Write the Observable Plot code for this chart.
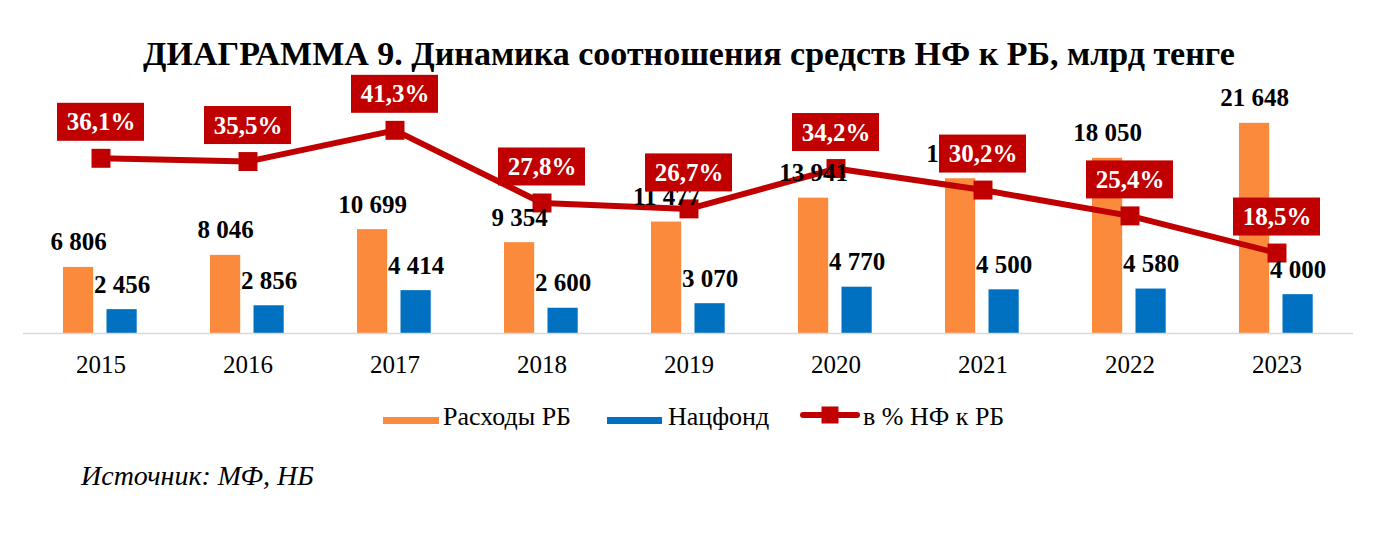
<!DOCTYPE html>
<html>
<head>
<meta charset="utf-8">
<script src="https://cdn.jsdelivr.net/npm/d3@7"></script>
<script src="https://cdn.jsdelivr.net/npm/@observablehq/plot@0.6"></script>
<style>
  html, body { margin: 0; padding: 0; background: #fff; }
  body { width: 1378px; height: 535px; overflow: hidden; font-family: "Liberation Serif", "Times New Roman", serif; color: #000; }
  #title { position: relative; height: 70px; }
  #title span { position: absolute; left: 0; right: 0; top: 35px; line-height: 38px; text-align: center; font-weight: bold; font-size: 34px; white-space: nowrap; }
  #chart { height: 315px; }
  #chart svg { display: block; overflow: visible; }
  #legend { position: relative; height: 70px; font-size: 26px; }
  #legend .sw { position: absolute; height: 7px; }
  #legend .lab { position: absolute; line-height: 29px; white-space: nowrap; }
  #legend svg { position: absolute; }
  #source { position: relative; height: 80px; }
  #source span { position: absolute; left: 81px; top: 5px; line-height: 32px; font-size: 28px; font-style: italic; white-space: nowrap; }
</style>
</head>
<body>
<div id="title"><span></span></div>
<div id="chart"></div>
<div id="legend"></div>
<div id="source"><span></span></div>
<script>
// ---- data ----
const titleText = "ДИАГРАММА 9. Динамика соотношения средств НФ к РБ, млрд тенге";
const sourceText = "Источник: МФ, НБ";
const years = ["2015", "2016", "2017", "2018", "2019", "2020", "2021", "2022", "2023"];
const budget = [6806, 8046, 10699, 9354, 11477, 13941, 15940, 18050, 21648];   // Расходы РБ
const fund = [2456, 2856, 4414, 2600, 3070, 4770, 4500, 4580, 4000];           // Нацфонд
const share = [36.1, 35.5, 41.3, 27.8, 26.7, 34.2, 30.2, 25.4, 18.5];         // в % НФ к РБ
const seriesNames = ["Расходы РБ", "Нацфонд", "в % НФ к РБ"];
const colors = ["#fb8a3c", "#0070c0", "#c00000"];

// axes
const yDomain = [0, 24000];          // primary axis (млрд тенге), hidden
const pctDomain = [3.55, 46.84];     // secondary axis (%), hidden

// ---- build ----
const rows = years.map((year, i) => ({ year, budget: budget[i], fund: fund[i], share: share[i] }));
const pctToY = d3.scaleLinear().domain(pctDomain).range(yDomain);
const locale = d3.formatLocale({ decimal: ",", thousands: " ", grouping: [3], currency: ["", ""] });
const fmtNum = locale.format(",d");
const fmtPct = v => locale.format(".1f")(v) + "%";

document.querySelector("#title span").textContent = titleText;
document.querySelector("#source span").textContent = sourceText;

const chart = Plot.plot({
  width: 1378,
  height: 315,
  marginTop: 30,
  marginBottom: 52,
  marginLeft: 23,
  marginRight: 25,
  style: { fontFamily: "Liberation Serif, Times New Roman, serif", fontSize: "25px", background: "#fff", color: "#000", overflow: "visible" },
  x: { type: "band", domain: years, padding: 0 },
  y: { domain: yDomain, axis: null },
  marks: [
    Plot.barY(rows, { x: "year", y: "budget", fill: colors[0], insetLeft: 36, insetRight: 80.8 }),
    Plot.barY(rows, { x: "year", y: "fund", fill: colors[1], insetLeft: 79.5, insetRight: 37.3 }),
    Plot.ruleY([0], { stroke: "#d9d9d9", strokeWidth: 1.5 }),
    Plot.axisX({ tickSize: 0, tickPadding: 22, fontSize: 25, label: null, fill: "#000" }),
    Plot.line(rows, { x: "year", y: d => pctToY(d.share), stroke: colors[2], strokeWidth: 6, strokeLinejoin: "round" }),
    Plot.dot(rows, { x: "year", y: d => pctToY(d.share), symbol: "square", r: 10.7, fill: colors[2] }),
    Plot.text(rows, { x: "year", y: "budget", text: d => fmtNum(d.budget), dx: -22.4, dy: -25, fontWeight: "bold", fontSize: 25, fill: "#000" }),
    Plot.text(rows, { x: "year", y: "fund", text: d => fmtNum(d.fund), dx: 21.1, dy: -25, fontWeight: "bold", fontSize: 25, fill: "#000" }),
    Plot.barY(rows, { x: "year", y1: d => pctToY(d.share), y2: d => pctToY(d.share), insetLeft: 30, insetRight: 30, insetTop: -19, insetBottom: -19, dy: -36, fill: colors[2] }),
    Plot.text(rows, { x: "year", y: d => pctToY(d.share), text: d => fmtPct(d.share), dy: -36, fontWeight: "bold", fontSize: 25, fill: "#fff" })
  ]
});
document.getElementById("chart").appendChild(chart);

// ---- legend ----
const legend = document.getElementById("legend");
legend.innerHTML = `
  <div class="sw" style="left:383px;top:32px;width:56px;background:${colors[0]}"></div>
  <div class="lab" style="left:443px;top:17px">${seriesNames[0]}</div>
  <div class="sw" style="left:607px;top:32px;width:55px;background:${colors[1]}"></div>
  <div class="lab" style="left:668px;top:17px">${seriesNames[1]}</div>
  <svg style="left:798px;top:20px" width="64" height="20">
    <line x1="5" x2="59" y1="10" y2="10" stroke="${colors[2]}" stroke-width="6" stroke-linecap="round"/>
    <rect x="23.5" y="1.5" width="17" height="17" fill="${colors[2]}"/>
  </svg>
  <div class="lab" style="left:863px;top:17px">${seriesNames[2]}</div>
`;
</script>
</body>
</html>
